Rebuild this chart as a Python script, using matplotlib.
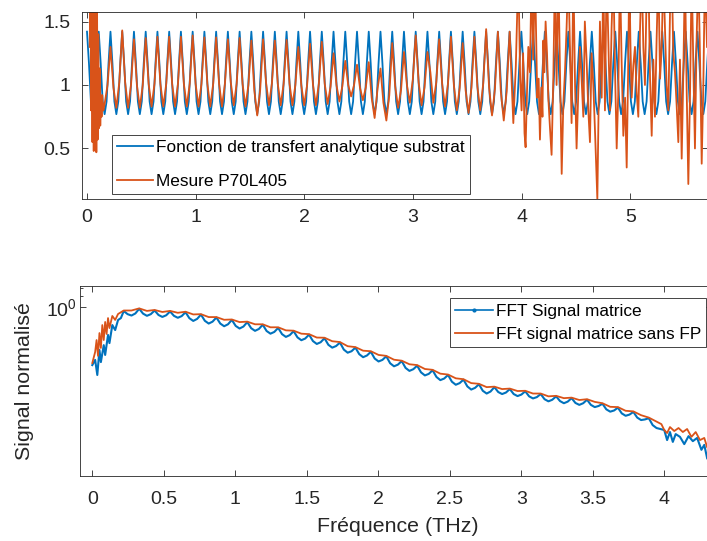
import numpy as np
import matplotlib
matplotlib.use("Agg")
import matplotlib.pyplot as plt
from matplotlib.lines import Line2D
from matplotlib.ticker import FixedLocator, NullLocator, FixedFormatter, NullFormatter

plt.rcParams['font.family'] = ['Liberation Sans', 'DejaVu Sans']
plt.rcParams['mathtext.default'] = 'regular'

BLUE = '#0072BD'
ORANGE = '#D95319'
AXC = '#262626'

# ---------------- top panel data (THz) ----------------
# analytic substrate transfer function, one period (0.108 THz) per row, 0.018 THz steps
top_step = 0.018
blue_top = [
    1.42, 1.17, 0.87, 0.77, 0.87, 1.17,
    1.42, 1.17, 0.87, 0.77, 0.87, 1.17,
    1.42, 1.17, 0.87, 0.77, 0.87, 1.17,
    1.42, 1.17, 0.87, 0.77, 0.87, 1.17,
    1.42, 1.17, 0.87, 0.77, 0.87, 1.17,
    1.42, 1.17, 0.87, 0.77, 0.87, 1.17,
    1.42, 1.17, 0.87, 0.77, 0.87, 1.17,
    1.42, 1.17, 0.87, 0.77, 0.87, 1.17,
    1.42, 1.17, 0.87, 0.77, 0.87, 1.17,
    1.42, 1.17, 0.87, 0.77, 0.87, 1.17,
    1.42, 1.17, 0.87, 0.77, 0.87, 1.17,
    1.42, 1.17, 0.87, 0.77, 0.87, 1.17,
    1.42, 1.17, 0.87, 0.77, 0.87, 1.17,
    1.42, 1.17, 0.87, 0.77, 0.87, 1.17,
    1.42, 1.17, 0.87, 0.77, 0.87, 1.17,
    1.42, 1.17, 0.87, 0.77, 0.87, 1.17,
    1.42, 1.17, 0.87, 0.77, 0.87, 1.17,
    1.42, 1.17, 0.87, 0.77, 0.87, 1.17,
    1.42, 1.17, 0.87, 0.77, 0.87, 1.17,
    1.42, 1.17, 0.87, 0.77, 0.87, 1.17,
    1.42, 1.17, 0.87, 0.77, 0.87, 1.17,
    1.42, 1.17, 0.87, 0.77, 0.87, 1.17,
    1.42, 1.17, 0.87, 0.77, 0.87, 1.17,
    1.42, 1.17, 0.87, 0.77, 0.87, 1.17,
    1.42, 1.17, 0.87, 0.77, 0.87, 1.17,
    1.42, 1.17, 0.87, 0.77, 0.87, 1.17,
    1.42, 1.17, 0.87, 0.77, 0.87, 1.17,
    1.42, 1.17, 0.87, 0.77, 0.87, 1.17,
    1.42, 1.17, 0.87, 0.77, 0.87, 1.17,
    1.42, 1.17, 0.87, 0.77, 0.87, 1.17,
    1.42, 1.17, 0.87, 0.77, 0.87, 1.17,
    1.42, 1.17, 0.87, 0.77, 0.87, 1.17,
    1.42, 1.17, 0.87, 0.77, 0.87, 1.17,
    1.42, 1.17, 0.87, 0.77, 0.87, 1.17,
    1.42, 1.17, 0.87, 0.77, 0.87, 1.17,
    1.42, 1.17, 0.87, 0.77, 0.87, 1.17,
    1.42, 1.17, 0.87, 0.77, 0.87, 1.17,
    1.42, 1.17, 0.87, 0.77, 0.87, 1.17,
    1.42, 1.17, 0.87, 0.77, 0.87, 1.17,
    1.42, 1.17, 0.87, 0.77, 0.87, 1.17,
    1.42, 1.17, 0.87, 0.77, 0.87, 1.17,
    1.42, 1.17, 0.87, 0.77, 0.87, 1.17,
    1.42, 1.17, 0.87, 0.77, 0.87, 1.17,
    1.42, 1.17, 0.87, 0.77, 0.87, 1.17,
    1.42, 1.17, 0.87, 0.77, 0.87, 1.17,
    1.42, 1.17, 0.87, 0.77, 0.87, 1.17,
    1.42, 1.17, 0.87, 0.77, 0.87, 1.17,
    1.42, 1.17, 0.87, 0.77, 0.87, 1.17,
    1.42, 1.17, 0.87, 0.77, 0.87, 1.17,
    1.42, 1.17, 0.87, 0.77, 0.87, 1.17,
    1.42, 1.17, 0.87, 0.77, 0.87, 1.17,
    1.42, 1.17, 0.87, 0.77, 0.87, 1.17,
    1.42, 1.17, 0.87, 0.77, 0.87, 1.17,
    1.42, 1.17, 0.87, 0.77, 0.87, 1.17,
    1.42,
]

# measurement P70L405: noisy start
meas_f0 = [0.025, 0.032, 0.038, 0.044, 0.050, 0.056, 0.062, 0.068, 0.074, 0.080,
           0.086, 0.092, 0.098, 0.104, 0.110, 0.116, 0.122, 0.128, 0.134, 0.140,
           0.150]
meas_v0 = [1.30, 1.90, 0.80, 1.90, 0.55, 1.90, 0.48, 1.90, 0.62, 1.80,
           0.47, 1.70, 0.57, 1.40, 0.66, 1.13, 0.68, 0.92, 0.75, 0.92,
           0.80]
# regular part, from 0.162 THz every 0.027 THz
meas_f1_start, meas_step = 0.162, 0.027
meas_v1 = [
    0.85, 1.00, 1.30, 0.98, 0.82, 1.02, 1.43, 1.02, 0.82, 1.00,
    1.36, 1.00, 0.82, 1.00, 1.37, 1.01, 0.83, 1.01, 1.38, 1.01,
    0.83, 1.01, 1.38, 1.01, 0.83, 1.01, 1.38, 1.01, 0.83, 1.01,
    1.39, 1.01, 0.83, 1.01, 1.375, 1.01, 0.83, 1.01, 1.375, 1.01,
    0.83, 1.01, 1.36, 1.02, 0.84, 1.01, 1.37, 1.01, 0.83, 1.00,
    1.35, 0.96, 0.76, 0.96, 1.36, 1.02, 0.84, 1.01, 1.35, 1.01,
    0.84, 1.01, 1.355, 1.01, 0.84, 1.00, 1.30, 1.00, 0.84, 1.00,
    1.325, 1.00, 0.84, 1.01, 1.34, 1.01, 0.85, 0.99, 1.25, 1.00,
    0.87, 0.99, 1.19, 1.00, 0.91, 1.00, 1.16, 0.98, 0.88, 0.98,
    1.18, 0.90, 0.74, 0.97, 1.13, 0.86, 0.72, 0.92, 1.33, 0.99,
    0.82, 0.96, 1.26, 1.00, 0.86, 1.04, 1.39, 1.02, 0.84, 0.98,
    1.26, 1.10, 0.86, 1.02, 1.36, 1.01, 0.83, 1.01, 1.38, 1.00,
    0.80, 0.98, 1.33, 0.96, 0.78, 0.98, 1.38, 0.99, 0.80, 1.01,
    1.44, 0.98, 0.76, 0.97, 1.42, 0.95, 0.72, 0.95, 1.42,
]
# noisy end
meas_f2 = [
    3.922, 3.945, 3.968, 3.985, 3.998, 4.012, 4.025, 4.035, 4.048, 4.060,
    4.075, 4.090, 4.105, 4.121, 4.132, 4.142, 4.155, 4.167, 4.180, 4.190,
    4.198, 4.208, 4.219, 4.232, 4.244, 4.258, 4.274, 4.290, 4.305, 4.320,
    4.336, 4.350, 4.367, 4.382, 4.397, 4.412, 4.428, 4.443, 4.458, 4.466,
    4.474, 4.490, 4.504, 4.520, 4.535, 4.550, 4.566, 4.580, 4.596, 4.612,
    4.627, 4.642, 4.658, 4.675, 4.695, 4.707, 4.719, 4.735, 4.750, 4.765,
    4.773, 4.781, 4.796, 4.811, 4.826, 4.842, 4.858, 4.873, 4.888, 4.903,
    4.918, 4.934, 4.950, 4.965, 4.978, 4.989, 5.000, 5.011, 5.026, 5.041,
    5.056, 5.072, 5.088, 5.103, 5.118, 5.133, 5.148, 5.164, 5.180, 5.195,
    5.210, 5.225, 5.240, 5.256, 5.272, 5.287, 5.302, 5.317, 5.332, 5.348,
    5.364, 5.379, 5.394, 5.409, 5.424, 5.440, 5.455, 5.471, 5.486, 5.501,
    5.516, 5.532, 5.548, 5.563, 5.578, 5.593, 5.608, 5.624, 5.640, 5.655,
    5.670, 5.685, 5.704,
]
meas_v2 = [
    0.70, 1.15, 1.90, 1.05, 0.80, 1.25, 0.62, 0.51, 0.95, 1.30,
    1.10, 1.90, 1.20, 1.90, 1.40, 0.90, 1.05, 0.57, 0.98, 0.75,
    1.35, 1.10, 1.50, 1.25, 0.90, 0.68, 0.45, 1.05, 1.90, 1.00,
    1.90, 1.20, 0.30, 0.85, 1.10, 1.45, 1.90, 1.30, 0.70, 1.25,
    1.90, 1.00, 0.50, 0.95, 1.30, 1.05, 0.75, 1.50, 1.20, 0.80,
    0.55, 1.25, 1.00, 0.60, 0.10, 0.85, 1.50, 0.90, 1.90, 0.80,
    1.40, 1.90, 1.35, 0.80, 1.45, 1.90, 1.10, 0.50, 0.95, 1.90,
    1.20, 0.60, 0.90, 0.35, 1.10, 1.90, 1.30, 0.90, 1.15, 1.30,
    0.95, 0.75, 1.45, 1.90, 1.30, 1.00, 1.70, 1.90, 1.05, 0.60,
    1.20, 0.75, 1.35, 1.90, 1.05, 1.30, 1.90, 1.45, 1.00, 0.80,
    1.60, 1.90, 1.25, 1.10, 0.85, 0.55, 1.20, 0.42, 1.10, 1.90,
    1.00, 0.22, 0.95, 1.90, 1.15, 0.50, 1.35, 1.90, 1.20, 0.38,
    1.00, 1.90, 1.30,
]

# ---------------- bottom panel data (normalised FFT) ----------------
fft_f0 = [0.000, 0.020, 0.035, 0.050, 0.060, 0.080, 0.090, 0.110, 0.120, 0.140,
          0.160, 0.180, 0.200]
fft_v0 = [0.642, 0.668, 0.595, 0.721, 0.657, 0.748, 0.694, 0.809, 0.760, 0.873,
          0.840, 0.907, 0.921]
# scalloped part from 0.220 THz every 0.027 THz
fft_f1_start, fft_step = 0.220, 0.027
fft_v1 = [
    0.972, 0.949, 0.939, 0.954, 0.989, 0.953, 0.937, 0.949,
    0.976, 0.943, 0.929, 0.941, 0.969, 0.937, 0.923, 0.935,
    0.963, 0.920, 0.901, 0.915, 0.946, 0.902, 0.883, 0.896,
    0.925, 0.883, 0.865, 0.878, 0.908, 0.867, 0.850, 0.863,
    0.893, 0.852, 0.835, 0.847, 0.875, 0.834, 0.817, 0.828,
    0.854, 0.814, 0.797, 0.808, 0.833, 0.794, 0.777, 0.787,
    0.811, 0.772, 0.755, 0.765, 0.789, 0.750, 0.734, 0.743,
    0.763, 0.723, 0.706, 0.714, 0.734, 0.698, 0.682, 0.691,
    0.711, 0.675, 0.660, 0.668, 0.687, 0.651, 0.636, 0.644,
    0.662, 0.628, 0.614, 0.622, 0.639, 0.607, 0.593, 0.600,
    0.617, 0.586, 0.572, 0.579, 0.595, 0.565, 0.552, 0.559,
    0.574, 0.545, 0.532, 0.539, 0.554, 0.527, 0.516, 0.524,
    0.542, 0.522, 0.514, 0.520, 0.534, 0.514, 0.506, 0.512,
    0.525, 0.505, 0.497, 0.502, 0.514, 0.494, 0.486, 0.492,
    0.505, 0.487, 0.479, 0.485, 0.498, 0.480, 0.473, 0.479,
    0.492, 0.473, 0.465, 0.469, 0.477, 0.457, 0.449, 0.453,
    0.463, 0.443, 0.435, 0.439, 0.448, 0.429, 0.421, 0.423,
    0.427, 0.405, 0.396, 0.393, 0.390,
]
fft_f2 = [4.020, 4.040, 4.060, 4.080, 4.110, 4.140, 4.170, 4.200, 4.230, 4.260,
          4.280, 4.300]
fft_v2 = [0.361, 0.384, 0.356, 0.378, 0.370, 0.350, 0.372, 0.358, 0.367, 0.335,
          0.348, 0.314]

nofp_f = [
    0.000, 0.020, 0.030, 0.040, 0.050, 0.060, 0.070, 0.080, 0.090, 0.100,
    0.110, 0.120, 0.140, 0.160, 0.180,
    0.220, 0.274, 0.328, 0.382, 0.436, 0.490, 0.544, 0.598, 0.652, 0.706,
    0.760, 0.814, 0.868, 0.922, 0.976, 1.030, 1.084, 1.138, 1.192, 1.246,
    1.300, 1.354, 1.408, 1.462, 1.516, 1.570, 1.624, 1.678, 1.732, 1.786,
    1.840, 1.894, 1.948, 2.002, 2.056, 2.110, 2.164, 2.218, 2.272, 2.326,
    2.380, 2.434, 2.488, 2.542, 2.596, 2.650, 2.704, 2.758, 2.812, 2.866,
    2.920, 2.974, 3.028, 3.082, 3.136, 3.190, 3.244, 3.298, 3.352, 3.406,
    3.460, 3.514, 3.568, 3.622, 3.676, 3.730, 3.784, 3.838, 3.892,
    3.946, 3.980, 4.000, 4.020, 4.040, 4.070, 4.100, 4.130, 4.160, 4.190,
    4.220, 4.250, 4.280, 4.300,
]
nofp_v = [
    0.652, 0.710, 0.778, 0.689, 0.821, 0.732, 0.873, 0.778, 0.894, 0.815,
    0.921, 0.853, 0.936, 0.908, 0.950,
    0.976, 0.976, 0.992, 0.973, 0.980, 0.965, 0.973, 0.959, 0.967, 0.947,
    0.949, 0.928, 0.928, 0.909, 0.911, 0.893, 0.896, 0.878, 0.878, 0.858,
    0.858, 0.838, 0.836, 0.817, 0.814, 0.793, 0.792, 0.771, 0.766, 0.742,
    0.737, 0.717, 0.714, 0.694, 0.689, 0.669, 0.664, 0.646, 0.642, 0.623,
    0.619, 0.601, 0.597, 0.580, 0.576, 0.559, 0.556, 0.542, 0.544, 0.534,
    0.536, 0.526, 0.527, 0.516, 0.516, 0.505, 0.507, 0.498, 0.500, 0.491,
    0.494, 0.484, 0.479, 0.466, 0.465, 0.452, 0.450, 0.437, 0.429,
    0.416, 0.408, 0.390, 0.381, 0.399, 0.387, 0.396, 0.384, 0.393, 0.370,
    0.384, 0.361, 0.367, 0.342,
]

top_ticks = [0, 1, 2, 3, 4, 5]
top_yticks = [0.5, 1, 1.5]
bot_ticks = [0, 0.5, 1, 1.5, 2, 2.5, 3, 3.5, 4]
bot_tick_labels = ['0', '0.5', '1', '1.5', '2', '2.5', '3', '3.5', '4']

TICK_FS = 14
LABEL_FS = 15.4
LEG_FS = 12.4

W, H = 707, 541
fig = plt.figure(figsize=(W / 100, H / 100), dpi=100)


def style(ax):
    for s in ax.spines.values():
        s.set_color(AXC)
        s.set_linewidth(0.6)
    ax.tick_params(direction='in', top=True, right=True, length=4, width=0.6,
                   colors=AXC, labelsize=TICK_FS)
    ax.tick_params(which='minor', direction='in', length=2.5, width=0.6, colors=AXC)


# ---- top axes
ax1 = fig.add_axes([82 / W, (H - 199) / H, (708 - 82) / W, 187 / H])
f_blue = np.arange(len(blue_top)) * top_step
meas_f = np.concatenate([meas_f0, meas_f1_start + meas_step * np.arange(len(meas_v1)), meas_f2])
meas_v = np.concatenate([meas_v0, meas_v1, meas_v2])
ax1.plot(f_blue, blue_top, color=BLUE, lw=1.3,
         label='Fonction de transfert analytique substrat')
ax1.plot(meas_f, meas_v, color=ORANGE, lw=1.3, label='Mesure P70L405')
ax1.set_xlim(-0.046, 5.713)
ax1.set_ylim(0.102, 1.575)
ax1.set_xticks(top_ticks)
ax1.set_yticks(top_yticks)
ax1.set_yticklabels(['0.5', '1', '1.5'])
style(ax1)
ax1.tick_params(axis='x', pad=7)
ax1.tick_params(axis='y', pad=8.5)
leg1 = ax1.legend(loc='lower left', bbox_to_anchor=(0.0474, 0.025), borderaxespad=0,
                  fontsize=LEG_FS, handlelength=2.1, handletextpad=0.2, borderpad=0.3,
                  labelspacing=1.1, fancybox=False, framealpha=1, edgecolor=AXC)
leg1.get_frame().set_linewidth(0.6)

# ---- bottom axes
ax2 = fig.add_axes([80 / W, 65 / H, 628 / W, 190 / H])
fft_f = np.concatenate([fft_f0, fft_f1_start + fft_step * np.arange(len(fft_v1)), fft_f2])
fft_v = np.concatenate([fft_v0, fft_v1, fft_v2])
ax2.plot(fft_f, fft_v, color=BLUE, lw=1.5)
ax2.plot(nofp_f, nofp_v, color=ORANGE, lw=1.3)
ax2.set_yscale('log')
ax2.set_xlim(-0.086, 4.306)
ax2.set_ylim(0.274, 1.178)
ax2.xaxis.set_major_locator(FixedLocator(bot_ticks))
ax2.xaxis.set_major_formatter(FixedFormatter(bot_tick_labels))
ax2.xaxis.set_minor_locator(NullLocator())
ax2.yaxis.set_major_locator(FixedLocator([1]))
ax2.yaxis.set_major_formatter(FixedFormatter(['$10^0$']))
ax2.yaxis.set_minor_locator(FixedLocator([1.09, 1.16]))
ax2.yaxis.set_minor_formatter(NullFormatter())
style(ax2)
ax2.tick_params(axis='x', pad=11)
ax2.tick_params(axis='y', pad=2)
handles = [Line2D([], [], color=BLUE, lw=1.2, marker='.', ms=4),
           Line2D([], [], color=ORANGE, lw=1.3)]
leg2 = ax2.legend(handles, ['FFT Signal matrice', 'FFt signal matrice sans FP'],
                  loc='upper right', bbox_to_anchor=(0.9968, 0.935), borderaxespad=0,
                  fontsize=LEG_FS, handlelength=2.2, handletextpad=0.13, borderpad=0.3,
                  labelspacing=0.5, fancybox=False, framealpha=1, edgecolor=AXC)
leg2.get_frame().set_linewidth(0.6)

fig.text(25 / W, 1 - 381 / H, 'Signal normalisé', rotation=90, ha='center',
         va='center', fontsize=LABEL_FS, color=AXC)
fig.text(397.5 / W, 1 - 527 / H, 'Fréquence (THz)', ha='center', va='center',
         fontsize=LABEL_FS, color=AXC)

fig.savefig('out.png', dpi=100)
